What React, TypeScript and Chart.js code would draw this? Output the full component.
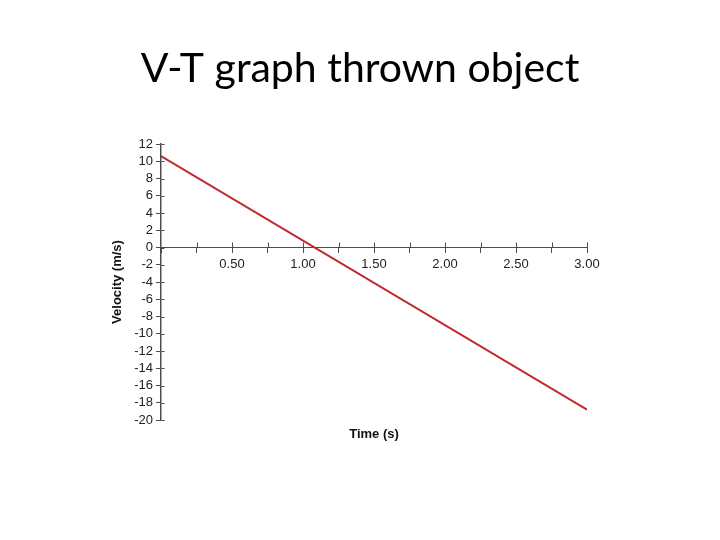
import React, { useEffect, useRef } from "react";
import { Chart, registerables } from "chart.js";

Chart.register(...registerables);

const titleText = "V-T graph thrown object";
const xTitle = "Time (s)";
const yTitle = "Velocity (m/s)";
const times = [0, 3];
const velocities = [10.6, -18.8];
const xMin = 0;
const xMax = 3;
const xStep = 0.25;
const yMin = -20;
const yMax = 12;
const yStep = 2;

const NARROW = "'Liberation Sans Narrow', 'Liberation Sans', Arial, sans-serif";
const AXIS_COLOR = "#4d4d4d";

const textPlugin = {
  id: "texts",
  afterDraw(chart: any) {
    const ctx = chart.ctx;
    const area = chart.chartArea;
    const x = chart.scales.x;
    const y = chart.scales.y;
    ctx.save();
    // upper half of x ticks (crossing)
    ctx.strokeStyle = AXIS_COLOR;
    ctx.lineWidth = 1;
    const y0 = y.getPixelForValue(0);
    for (let v = xMin + xStep; v <= xMax + 1e-9; v += xStep) {
      const px = Math.round(x.getPixelForValue(v)) + 0.5;
      ctx.beginPath();
      ctx.moveTo(px, y0 - 5);
      ctx.lineTo(px, y0);
      ctx.stroke();
    }
    // right half of y ticks
    const ax = Math.round(area.left) + 0.5;
    for (let v = yMin; v <= yMax; v += yStep) {
      const py = Math.round(y.getPixelForValue(v)) + 0.5;
      ctx.beginPath();
      ctx.moveTo(ax, py);
      ctx.lineTo(ax + 3, py);
      ctx.stroke();
    }
    // title
    ctx.fillStyle = "#000000";
    ctx.font = "41px Lato, 'Open Sans', sans-serif";
    ctx.textAlign = "center";
    ctx.textBaseline = "alphabetic";
    ctx.fillText(titleText, 360, 82);
    // x title
    ctx.fillStyle = "#111111";
    ctx.font = `bold 13px ${NARROW}`;
    ctx.textBaseline = "middle";
    ctx.fillText(xTitle, (area.left + area.right) / 2, 434);
    // y title
    ctx.translate(117, (area.top + area.bottom) / 2);
    ctx.rotate(-Math.PI / 2);
    ctx.fillText(yTitle, 0, 0);
    ctx.restore();
  },
};

export default function App() {
  const ref = useRef<HTMLCanvasElement>(null);
  useEffect(() => {
    if (!ref.current) return;
    const chart = new Chart(ref.current, {
      type: "line",
      data: {
        datasets: [
          {
            data: times.map((t, i) => ({ x: t, y: velocities[i] })),
            borderColor: "#c0282e",
            borderWidth: 2,
            pointRadius: 0,
            fill: false,
          },
        ],
      },
      options: {
        animation: false,
        responsive: false,
        maintainAspectRatio: false,
        layout: { padding: { top: 144, left: 100, right: 133, bottom: 120 } },
        plugins: { legend: { display: false }, tooltip: { enabled: false }, title: { display: false } },
        scales: {
          x: {
            type: "linear",
            position: { y: 0 },
            min: xMin,
            max: xMax,
            grid: { drawOnChartArea: false, drawTicks: true, tickLength: 5, color: AXIS_COLOR },
            border: { color: AXIS_COLOR, width: 1 },
            ticks: {
              stepSize: xStep,
              autoSkip: false,
              maxRotation: 0,
              color: "#222222",
              font: { family: NARROW, size: 13 },
              padding: 4,
              callback: (v: any) => {
                const n = Number(v);
                if (n === 0) return "";
                return Math.abs(n / 0.5 - Math.round(n / 0.5)) < 1e-9 ? n.toFixed(2) : "";
              },
            },
          },
          y: {
            type: "linear",
            min: yMin,
            max: yMax,
            afterFit: (s: any) => {
              s.width = 61;
            },
            grid: { drawOnChartArea: false, drawTicks: true, tickLength: 5, color: AXIS_COLOR },
            border: { color: AXIS_COLOR, width: 1.5 },
            ticks: {
              stepSize: yStep,
              autoSkip: false,
              color: "#222222",
              font: { family: NARROW, size: 13 },
              padding: 3,
            },
          },
        },
      },
      plugins: [textPlugin],
    });
    return () => chart.destroy();
  }, []);
  return (
    <div style={{ position: "fixed", left: 0, top: 0, width: 720, height: 540, background: "#fff" }}>
      <canvas ref={ref} width={720} height={540} style={{ width: 720, height: 540 }} />
    </div>
  );
}
